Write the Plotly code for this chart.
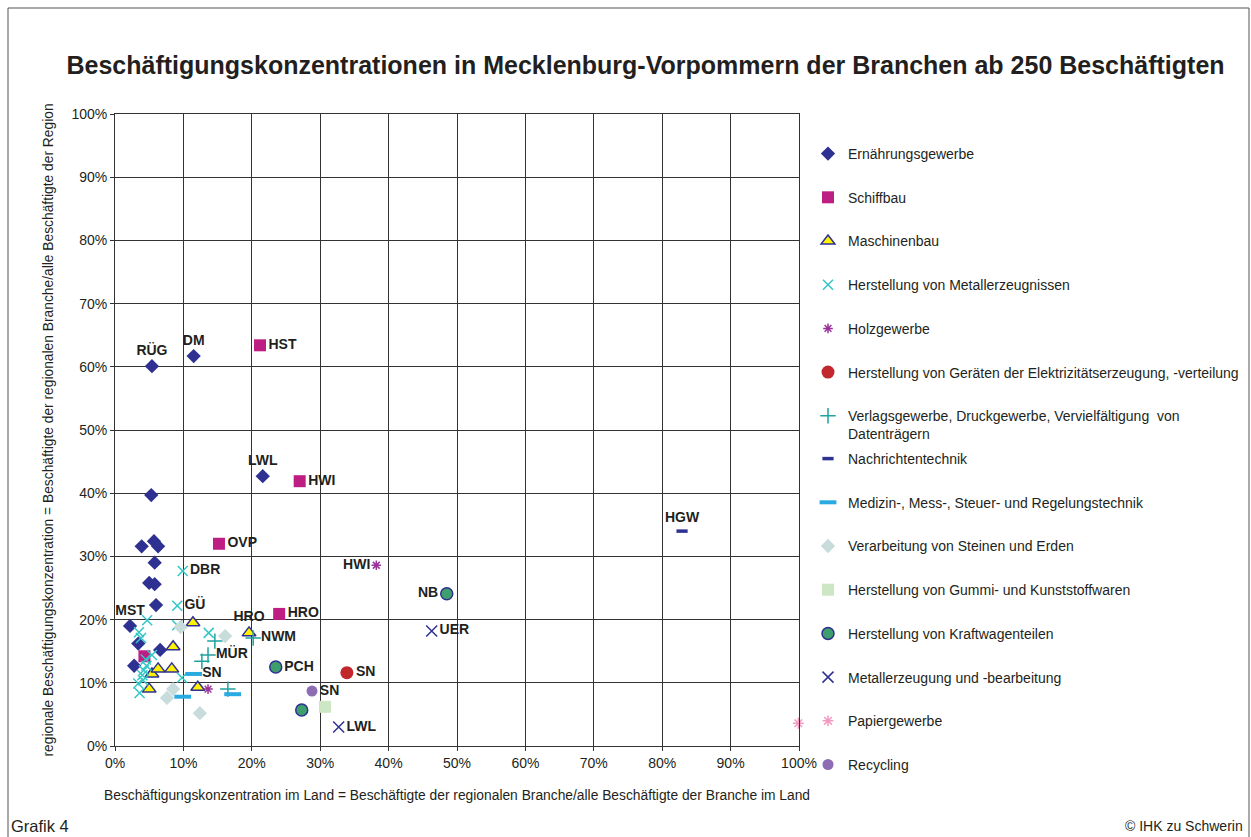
import plotly.graph_objects as go

# ---- data (x: Beschäftigungskonzentration im Land %, y: regionale Konzentration %) ----
ern_x = [5.4, 11.5, 21.6, 5.3, 3.9, 5.7, 6.3, 5.8, 5.0, 5.8, 6.0, 2.2, 3.4, 6.6, 2.8]
ern_y = [60.1, 61.7, 42.7, 39.7, 31.6, 32.4, 31.6, 29.0, 25.8, 25.6, 22.3, 19.0, 16.2, 15.2, 12.7]
ern_t = ["RÜG", "DM", "LWL", "", "", "", "", "", "", "", "", "MST", "", "", ""]

sch_x = [21.2, 27.0, 15.2, 24.0, 4.3]
sch_y = [63.4, 41.9, 32.0, 20.9, 14.2]
sch_t = ["HST", "HWI", "OVP", "HRO", ""]

mas_x = [11.4, 19.6, 8.5, 5.4, 6.3, 8.3, 5.0, 12.1]
mas_y = [19.5, 17.9, 15.7, 11.4, 12.2, 12.2, 9.0, 9.3]
mas_t = ["", "HRO", "", "", "", "", "", ""]

met_x = [9.9, 9.1, 4.7, 9.1, 3.5, 3.8, 13.7, 5.4, 4.5, 4.2, 4.0, 4.1, 3.4, 3.6, 9.8, 4.6]
met_y = [27.7, 22.2, 19.9, 19.1, 18.0, 17.1, 17.9, 14.4, 13.7, 12.0, 11.2, 10.4, 9.9, 8.4, 10.8, 12.7]
met_t = ["DBR", "GÜ", "", "", "", "", "", "", "", "", "", "", "", "", "", ""]

holz_x = [38.2, 13.6]
holz_y = [28.6, 9.0]
holz_t = ["HWI", ""]

elek_x = [33.9]
elek_y = [11.6]
elek_t = ["SN"]

verl_x = [14.6, 13.6, 12.7, 20.2, 16.5]
verl_y = [16.6, 14.4, 13.4, 17.1, 9.0]
verl_t = ["", "MÜR", "", "NWM", ""]

nach_x = [82.9]
nach_y = [34.0]
nach_t = ["HGW"]

med_x = [11.5, 9.9, 17.2]
med_y = [11.4, 7.8, 8.2]
med_t = ["SN", "", ""]

stein_x = [9.6, 16.1, 8.5, 7.6, 12.4]
stein_y = [18.8, 17.4, 9.0, 7.6, 5.2]

gummi_x = [30.7]
gummi_y = [6.2]

kfz_x = [48.5, 23.5, 27.3]
kfz_y = [24.1, 12.5, 5.7]
kfz_t = ["NB", "PCH", ""]

meterz_x = [46.3, 32.7]
meterz_y = [18.2, 3.0]
meterz_t = ["UER", "LWL"]

papier_x = [99.9]
papier_y = [3.6]

recy_x = [28.8]
recy_y = [8.7]
recy_t = ["SN"]

x_ticks = list(range(0, 101, 10))
tick_labels = [f"{v}%" for v in x_ticks]

FONT = "Liberation Sans, Arial, sans-serif"
TXT = "#231F20"
NAVY = "#2E3192"

def pos(labels, default="middle right", special=None):
    special = special or {}
    return [special.get(l, default) for l in labels]

fig = go.Figure()

def add(name, xs, ys, texts, positions, marker, group, legend="legend"):
    fig.add_trace(go.Scatter(
        x=xs, y=ys, name=name, mode="markers+text" if texts else "markers",
        text=texts if texts else None, textposition=positions if texts else None,
        textfont=dict(family=FONT, size=14, color=TXT, weight="bold"),
        marker=marker, legendgroup=group, legend=legend, cliponaxis=False,
    ))

add("Ernährungsgewerbe", ern_x, ern_y, ern_t,
    pos(ern_t, "top center"),
    dict(symbol="diamond", size=11, color=NAVY, line=dict(width=0)), "g1")
add("Schiffbau", sch_x, sch_y, sch_t, pos(sch_t),
    dict(symbol="square", size=12, color="#BE1E84", line=dict(width=0)), "g2")
add("Maschinenbau", mas_x, mas_y, mas_t, pos(mas_t, "top center"),
    dict(symbol="triangle-up", size=12, color="#FFF200", line=dict(width=1.5, color=NAVY)), "g3")
add("Herstellung von Metallerzeugnissen", met_x, met_y, met_t, pos(met_t),
    dict(symbol="x-thin-open", size=10, color="#33C6C6", line=dict(width=1.5, color="#33C6C6")), "g4")
add("Holzgewerbe", holz_x, holz_y, holz_t, pos(holz_t, "middle left"),
    dict(symbol="asterisk-open", size=8, color="#993399", line=dict(width=1.5, color="#993399")), "g5")
add("Herstellung von Geräten der Elektrizitätserzeugung, -verteilung", elek_x, elek_y, elek_t, pos(elek_t),
    dict(symbol="circle", size=13, color="#C1272D", line=dict(width=0)), "g6")
add("Verlagsgewerbe, Druckgewerbe, Vervielfältigung  von<br>Datenträgern", verl_x, verl_y, verl_t, pos(verl_t),
    dict(symbol="cross-thin-open", size=11, color="#1FA3A0", line=dict(width=1.5, color="#1FA3A0")), "g7")
add("Nachrichtentechnik", nach_x, nach_y, nach_t, pos(nach_t, "top center"),
    dict(symbol="line-ew-open", size=8, color=NAVY, line=dict(width=3.5, color=NAVY)), "g8", "legend2")
add("Medizin-, Mess-, Steuer- und Regelungstechnik", med_x, med_y, med_t, pos(med_t),
    dict(symbol="line-ew-open", size=12, color="#29ABE2", line=dict(width=4, color="#29ABE2")), "g9", "legend2")
add("Verarbeitung von Steinen und Erden", stein_x, stein_y, None, None,
    dict(symbol="diamond", size=11, color="#C8DCDC", line=dict(width=0)), "g10", "legend2")
add("Herstellung von Gummi- und Kunststoffwaren", gummi_x, gummi_y, None, None,
    dict(symbol="square", size=12, color="#CDE6C4", line=dict(width=0)), "g11", "legend2")
add("Herstellung von Kraftwagenteilen", kfz_x, kfz_y, kfz_t, pos(kfz_t, "middle right", {"NB": "middle left"}),
    dict(symbol="circle", size=12, color="#3E9E6C", line=dict(width=1.5, color=NAVY)), "g12", "legend2")
add("Metallerzeugung und -bearbeitung", meterz_x, meterz_y, meterz_t, pos(meterz_t),
    dict(symbol="x-thin-open", size=11, color=NAVY, line=dict(width=1.5, color=NAVY)), "g13", "legend2")
add("Papiergewerbe", papier_x, papier_y, None, None,
    dict(symbol="asterisk-open", size=9, color="#F49AC1", line=dict(width=1.5, color="#F49AC1")), "g14", "legend2")
add("Recycling", recy_x, recy_y, recy_t, pos(recy_t),
    dict(symbol="circle", size=11, color="#8E6DB5", line=dict(width=0)), "g15", "legend2")

axis_common = dict(
    range=[0, 100], tickmode="array", tickvals=x_ticks, ticktext=tick_labels,
    showgrid=True, gridcolor="#333333", gridwidth=1,
    showline=True, linecolor="#333333", linewidth=1, mirror=True,
    ticks="outside", ticklen=4, tickcolor="#333333",
    zeroline=False, tickfont=dict(family=FONT, size=14, color=TXT),
)

legend_common = dict(
    xref="container", yref="container",
    xanchor="left", yanchor="top", x=808 / 1251,
    font=dict(family=FONT, size=14, color=TXT),
    tracegroupgap=22.5, valign="top", bgcolor="rgba(0,0,0,0)",
)

fig.update_layout(
    width=1251, height=837,
    margin=dict(l=115, r=452, t=114, b=91, autoexpand=False),
    paper_bgcolor="white", plot_bgcolor="white",
    font=dict(family=FONT, color=TXT),
    title=dict(
        text="Beschäftigungskonzentrationen in Mecklenburg-Vorpommern der Branchen ab 250 Beschäftigten",
        font=dict(family=FONT, size=25, color=TXT, weight="bold"),
        x=0.516, xanchor="center", xref="container",
        y=1 - 65 / 837, yanchor="middle", yref="container",
    ),
    xaxis=dict(axis_common, title=dict(
        text="Beschäftigungskonzentration im Land = Beschäftigte der regionalen Branche/alle Beschäftigte der Branche im Land",
        font=dict(family=FONT, size=13.8, color=TXT), standoff=20)),
    yaxis=dict(axis_common, title=dict(
        text="regionale Beschäftigungskonzentration = Beschäftigte der regionalen Branche/alle Beschäftigte der Region",
        font=dict(family=FONT, size=13.8, color=TXT), standoff=14)),
    legend=dict(legend_common, y=1 - 138 / 837),
    legend2=dict(legend_common, y=1 - 443 / 837),
    showlegend=True,
)

px_x = lambda p: (p - 115) / 684
px_y = lambda p: (746 - p) / 632

fig.add_annotation(text="Grafik 4", xref="paper", yref="paper", x=px_x(9), y=px_y(826),
                   xanchor="left", yanchor="middle", showarrow=False,
                   font=dict(family=FONT, size=16.5, color=TXT))
fig.add_annotation(text="© IHK zu Schwerin", xref="paper", yref="paper", x=px_x(1245), y=px_y(826),
                   xanchor="right", yanchor="middle", showarrow=False,
                   font=dict(family=FONT, size=14, color=TXT))

fig.add_shape(type="rect", xref="paper", yref="paper",
              x0=px_x(8), x1=px_x(1249), y0=px_y(850), y1=px_y(8),
              line=dict(color="#555555", width=1), layer="below")

fig.write_html("out.html", config={"displayModeBar": False},
               post_script="document.body.style.margin='0';document.body.style.overflow='hidden';")
